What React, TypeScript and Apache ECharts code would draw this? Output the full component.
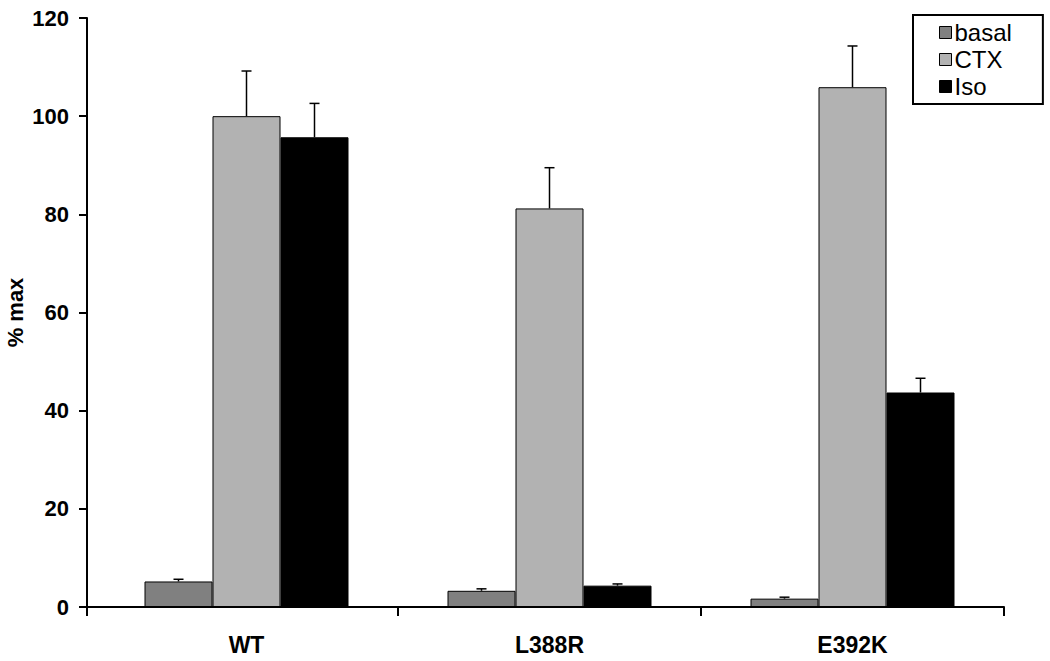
import React, { useEffect, useRef } from "react";
import * as echarts from "echarts";

const categories = ["WT", "L388R", "E392K"];
const seriesNames = ["basal", "CTX", "Iso"];
const basal = [5.2, 3.3, 1.7];
const basalErr = [0.45, 0.4, 0.3];
const ctx = [100, 81.2, 105.9];
const ctxErr = [9.2, 8.3, 8.4];
const iso = [95.7, 4.35, 43.7];
const isoErr = [6.9, 0.35, 2.9];
const yTicks = { min: 0, max: 120, interval: 20 };

const colors = ["#808080", "#b2b2b2", "#000000"];
const BAR_W = 68;
const FONT = "'Liberation Sans', Arial, Helvetica, sans-serif";

export default function App() {
  const ref = useRef<HTMLDivElement>(null);
  useEffect(() => {
    document.body.style.margin = "0";
    const chart = echarts.init(ref.current!, null, { renderer: "svg" });
    const means = [basal, ctx, iso];
    const errs = [basalErr, ctxErr, isoErr];
    const errData: number[][] = [];
    means.forEach((arr, s) =>
      arr.forEach((v, c) => errData.push([c, s, v, v + errs[s][c]]))
    );
    chart.setOption({
      animation: false,
      textStyle: { fontFamily: FONT },
      grid: { left: 95, right: 46, top: 18, bottom: 54, outerBoundsMode: "none", containLabel: false },
      graphic: [
        { type: "line", shape: { x1: 86, y1: 607, x2: 96, y2: 607 }, style: { stroke: "#000", lineWidth: 2 } },
        { type: "line", shape: { x1: 87, y1: 606, x2: 87, y2: 616 }, style: { stroke: "#000", lineWidth: 2 } },
      ],
      legend: {
        data: seriesNames,
        orient: "vertical",
        left: 913,
        top: 15,
        backgroundColor: "#fff",
        borderColor: "#000",
        borderWidth: 2,
        borderRadius: 0,
        padding: [4, 31, 4, 26],
        itemGap: 0,
        itemWidth: 12,
        itemHeight: 12,
        icon: "rect",
        itemStyle: { borderColor: "#000", borderWidth: 1 },
        textStyle: { fontSize: 24, lineHeight: 27, color: "#000", fontFamily: FONT, padding: [0, 0, 0, -2] },
      },
      xAxis: {
        type: "category",
        data: categories,
        boundaryGap: true,
        axisLine: { lineStyle: { color: "#000", width: 2 } },
        axisTick: {
          show: true,
          length: 9,
          interval: (idx: number) => idx !== 0,
          lineStyle: { color: "#000", width: 2 },
        },
        axisLabel: { fontSize: 23, fontWeight: "bold", color: "#000", margin: 26, fontFamily: FONT },
      },
      yAxis: {
        type: "value",
        offset: 8,
        min: yTicks.min,
        max: yTicks.max,
        interval: yTicks.interval,
        name: "% max",
        nameLocation: "middle",
        nameGap: 61,
        nameMoveOverlap: false,
        nameTextStyle: { fontSize: 22, fontWeight: "bold", color: "#000", fontFamily: FONT },
        splitLine: { show: false },
        axisLine: { show: true, lineStyle: { color: "#000", width: 2 } },
        axisTick: { show: true, length: 8, lineStyle: { color: "#000", width: 2 } },
        axisLabel: { fontSize: 22, fontWeight: "bold", color: "#000", margin: 18, fontFamily: FONT },
      },
      series: [
        ...seriesNames.map((name, i) => ({
          name,
          type: "bar",
          data: means[i],
          barWidth: BAR_W,
          barGap: "0%",
          itemStyle: { color: colors[i], borderColor: "#000", borderWidth: 1 },
        })),
        {
          type: "custom",
          name: "err",
          data: errData,
          z: 5,
          renderItem: (params: any, api: any) => {
            const c = api.value(0);
            const s = api.value(1);
            const base = api.coord([c, api.value(2)]);
            const top = api.coord([c, api.value(3)]);
            const x = base[0] + (s - 1) * BAR_W;
            const style = { stroke: "#000", lineWidth: 1.5 };
            return {
              type: "group",
              children: [
                { type: "line", shape: { x1: x, y1: base[1], x2: x, y2: top[1] }, style },
                { type: "line", shape: { x1: x - 5, y1: top[1], x2: x + 5, y2: top[1] }, style },
              ],
            };
          },
        },
      ],
    });
    return () => chart.dispose();
  }, []);
  return <div ref={ref} style={{ width: 1050, height: 661 }} />;
}
